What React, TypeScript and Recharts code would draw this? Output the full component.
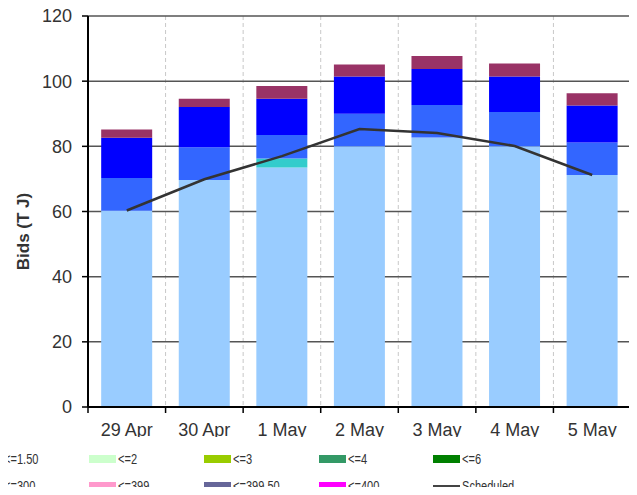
import {
  ComposedChart,
  Bar,
  Line,
  XAxis,
  YAxis,
  CartesianGrid
} from "recharts";

const dates = ["29 Apr", "30 Apr", "1 May", "2 May", "3 May", "4 May", "5 May"];

// stacked bid bands (T J), bottom to top
const band1 = [60.2, 69.7, 73.5, 80.0, 82.7, 80.0, 71.2];
const band2 = [0, 0, 2.8, 0, 0, 0, 0];
const band3 = [10.1, 10.0, 7.2, 10.0, 10.0, 10.5, 10.0];
const band4 = [12.3, 12.4, 11.1, 11.4, 11.0, 10.9, 11.3];
const band5 = [2.6, 2.5, 3.9, 3.7, 4.0, 4.0, 3.8];
const scheduled = [60.3, 69.9, 77.0, 85.3, 84.1, 80.1, 71.2];

const yTicks = [0, 20, 40, 60, 80, 100, 120];
const boundaryTicks = [0, 1, 2, 3, 4, 5, 6, 7];

const legendNames = [
  "<=1.50", "<=2", "<=3", "<=4", "<=6",
  "<=300", "<=399", "<=399.50", "<=400", "Scheduled"
];
const legendColors = [
  "#FF6600", "#CCFFCC", "#99CC00", "#339966", "#008000",
  "#993366", "#FF99CC", "#666699", "#FF00FF", "#444444"
];

const data = dates.map((date, i) => ({
  date,
  slot: i + 0.5,
  b1: band1[i],
  b2: band2[i],
  b3: band3[i],
  b4: band4[i],
  b5: band5[i],
  scheduled: scheduled[i]
}));

const font = "'Liberation Sans', Arial, sans-serif";

const YLabel = (props: any) => {
  const vb = props.viewBox || {};
  const x = vb.x + 23;
  const y = vb.y + vb.height / 2 + 20;
  return (
    <text
      x={x}
      y={y}
      transform={`rotate(-90, ${x}, ${y})`}
      textAnchor="middle"
      dominantBaseline="central"
      style={{ fontFamily: font, fontWeight: "bold", fontSize: 17, fill: "#333" }}
    >
      Bids (T J)
    </text>
  );
};

// date label centred on the band, tick marks on the band edges
const DateTick = (props: any) => {
  const { x, y, payload, index, width, visibleTicksCount } = props;
  const step = width / visibleTicksCount;
  const top = y - 16;
  return (
    <g>
      <line x1={x - step / 2} x2={x - step / 2} y1={top} y2={top + 6} stroke="#000" strokeWidth={1.5} />
      {index === visibleTicksCount - 1 && (
        <line x1={x + step / 2} x2={x + step / 2} y1={top} y2={top + 6} stroke="#000" strokeWidth={1.5} />
      )}
      <text x={x} y={y} dy="0.71em" textAnchor="middle" fontSize={18} fill="#333" fontFamily={font}>
        {payload.value}
      </text>
    </g>
  );
};

export default function App() {
  return (
    <div
      style={{
        position: "relative",
        width: 637,
        height: 495,
        margin: -8,
        overflow: "hidden",
        background: "#fff",
        fontFamily: font
      }}
    >
      <div style={{ width: 637, height: 437, overflow: "hidden" }}>
        <ComposedChart
          width={637}
          height={440}
          data={data}
          margin={{ top: 16, right: 6, left: 0, bottom: 0 }}
          barCategoryGap="17%"
        >
          <CartesianGrid
            xAxisId="edges"
            horizontal={false}
            stroke="#c8c8c8"
            strokeDasharray="4 3"
          />
          <CartesianGrid vertical={false} stroke="#555" strokeWidth={1.5} />
          <XAxis
            xAxisId="cat"
            dataKey="date"
            height={33}
            axisLine={{ stroke: "#000", strokeWidth: 2 }}
            tickLine={false}
            tickSize={6}
            tickMargin={10}
            interval={0}
            tick={<DateTick />}
          />
          <XAxis
            xAxisId="edges"
            type="number"
            dataKey="slot"
            domain={[0, 7]}
            ticks={boundaryTicks}
            hide
          />
          <YAxis
            width={88}
            domain={[0, 120]}
            ticks={yTicks}
            tickSize={6}
            tickMargin={10}
            axisLine={{ stroke: "#000", strokeWidth: 2 }}
            tickLine={{ stroke: "#000", strokeWidth: 1.5 }}
            tick={{ fontSize: 18, fill: "#333", fontFamily: font }}
            label={<YLabel />}
          />
          <Bar xAxisId="cat" dataKey="b1" stackId="s" fill="#99CCFF" isAnimationActive={false} />
          <Bar xAxisId="cat" dataKey="b2" stackId="s" fill="#33CCCC" isAnimationActive={false} />
          <Bar xAxisId="cat" dataKey="b3" stackId="s" fill="#3366FF" isAnimationActive={false} />
          <Bar xAxisId="cat" dataKey="b4" stackId="s" fill="#0000FF" isAnimationActive={false} />
          <Bar xAxisId="cat" dataKey="b5" stackId="s" fill="#993366" isAnimationActive={false} />
          <Line
            xAxisId="cat"
            dataKey="scheduled"
            stroke="#333"
            strokeWidth={2.5}
            dot={false}
            isAnimationActive={false}
          />
        </ComposedChart>
      </div>
      <div
        style={{
          position: "absolute",
          left: -25.5,
          top: 445.5,
          display: "grid",
          gridTemplateColumns: "repeat(5, 114.7px)",
          gridAutoRows: "27px",
          fontSize: 14,
          lineHeight: "27px",
          color: "#333"
        }}
      >
        {legendNames.map((name, i) => (
          <div key={name} style={{ display: "flex", alignItems: "center", height: 27 }}>
            <span
              style={{
                display: "inline-block",
                flex: "none",
                width: 27,
                height: name === "Scheduled" ? 3 : 8,
                background: legendColors[i],
                marginRight: 2
              }}
            />
            <span
              style={{
                display: "inline-block",
                whiteSpace: "nowrap",
                transform: "scaleX(0.79)",
                transformOrigin: "left center"
              }}
            >
              {name}
            </span>
          </div>
        ))}
      </div>
    </div>
  );
}
